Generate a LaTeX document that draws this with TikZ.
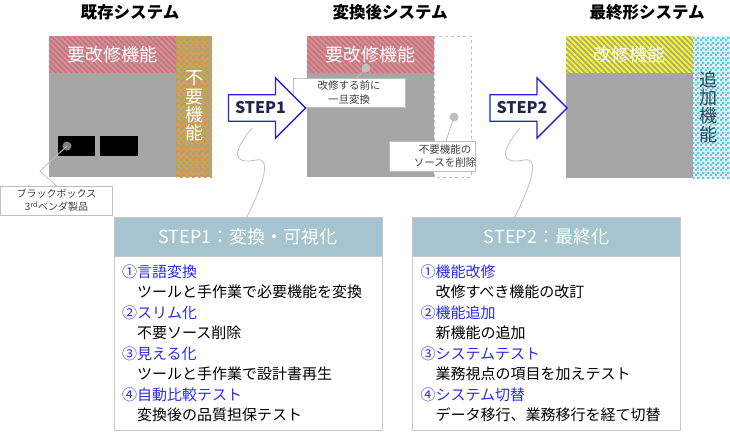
\documentclass[tikz,border=0pt]{standalone}
\usepackage{fontspec}
\setmainfont{Noto Sans CJK JP}
\usepackage{tikz}
\usetikzlibrary{positioning, patterns, patterns.meta, shapes.arrows}

\definecolor{sysgray}{HTML}{A6A6A6}
\definecolor{stripepink}{HTML}{F2616F}
\definecolor{checkorange}{HTML}{DC9A1A}
\definecolor{stripeyellow}{HTML}{FFFF00}
\definecolor{checkcyan}{HTML}{5CC8E2}
\definecolor{cyanbase}{HTML}{E4F5FA}
\definecolor{arrowblue}{HTML}{2424D8}
\definecolor{stepnavy}{HTML}{1F2750}
\definecolor{headblue}{HTML}{A5C4CF}
\definecolor{itemblue}{HTML}{2C2CF0}
\definecolor{linegray}{HTML}{BFBFBF}
\definecolor{boxgray}{HTML}{C8C8C8}
\definecolor{textgray}{HTML}{404040}
\definecolor{addnavy}{HTML}{354555}

% small checker tiles
\pgfdeclarepatternformonly{orangechecker}{\pgfqpoint{0pt}{0pt}}{\pgfqpoint{6pt}{6pt}}{\pgfqpoint{6pt}{6pt}}{%
  \pgfpathrectangle{\pgfqpoint{0pt}{0pt}}{\pgfqpoint{3pt}{3pt}}%
  \pgfpathrectangle{\pgfqpoint{3pt}{3pt}}{\pgfqpoint{3pt}{3pt}}%
  \pgfusepath{fill}}
\pgfdeclarepatternformonly{cyanchecker}{\pgfqpoint{0pt}{0pt}}{\pgfqpoint{5pt}{5pt}}{\pgfqpoint{5pt}{5pt}}{%
  \pgfpathrectangle{\pgfqpoint{0pt}{0pt}}{\pgfqpoint{2.5pt}{2.5pt}}%
  \pgfpathrectangle{\pgfqpoint{2.5pt}{2.5pt}}{\pgfqpoint{2.5pt}{2.5pt}}%
  \pgfusepath{fill}}

\tikzset{
  syslabel/.style={font=\fontsize{18}{18.2}\selectfont, text=white, align=center, inner sep=0pt},
  systitle/.style={font=\bfseries\fontsize{16.5}{18}\selectfont},
  steparrow/.style={single arrow, draw=arrowblue, line width=1.3pt, fill=white,
    minimum height=77pt, minimum width=60pt, single arrow head extend=10pt,
    text=stepnavy, font=\bfseries\fontsize{16}{18}\selectfont, inner sep=1pt},
  callout/.style={draw=linegray, fill=white, font=\fontsize{10.5}{13.5}\selectfont,
    text=textgray, align=center, inner sep=0pt},
  pindot/.style={circle, inner sep=0pt, minimum size=9pt},
  leader/.style={draw=linegray, line width=0.8pt},
  headbar/.style={draw=boxgray, fill=headblue, text=white,
    font=\fontsize{18}{20}\selectfont, minimum height=39pt, minimum width=268pt},
  bodybox/.style={draw=boxgray, fill=white, align=left, font=\fontsize{15}{20.5}\selectfont,
    inner xsep=8pt, text width=252pt, minimum height=174pt},
  stripes/.style={pattern={Lines[angle=-45, distance=3.8pt, line width=1.8pt]}},
}

\begin{document}
\begin{tikzpicture}[x=1pt, y=-1pt]
\useasboundingbox (0,0) rectangle (730,431);

% titles
\node[systitle] (t1) at (130,12) {既存システム};
\node[systitle] (t2) at (390,12) {変換後システム};
\node[systitle] (t3) at (647,12) {最終形システム};

% existing system
\fill[sysgray] (49,36) rectangle (212,177);
\fill[stripes, pattern color=stripepink] (49,36) rectangle (176,72);
\fill[pattern=orangechecker, pattern color=checkorange] (176,36) rectangle (212,177);
\node[syslabel] (fix1) at (112.5,55) {要改修機能};
\node[syslabel] (unused) at (194,106) {不\\要\\機\\能};
\fill[black] (58,136) rectangle (95,156);
\fill[black] (100,136) rectangle (138,156);
\node[pindot, fill=gray] (d1) at (67,146) {};
\node[callout, font=\fontsize{10}{13}\selectfont, minimum width=112pt, minimum height=29pt] (bbox) at (56.5,200.5)
  {ブラックボックス\\3\textsuperscript{rd}ベンダ製品};
\draw[leader] (d1.center) -- (40,171) -- (bbox.north);

% converted system
\fill[sysgray] (307,36) rectangle (434,177);
\fill[stripes, pattern color=stripepink] (307,36) rectangle (434,72);
\draw[linegray, dashed, fill=white] (434,36) rectangle (471,177);
\node[syslabel] (fix2) at (370.5,55) {要改修機能};
\node[pindot, fill=linegray] (d2) at (366,68) {};
\node[pindot, fill=linegray] (d3) at (454,117) {};
\node[callout, minimum width=112pt, minimum height=29pt] (conv) at (349,92.5)
  {改修する前に\\一旦変換};
\node[callout, minimum width=86pt, minimum height=30pt] (cut) at (432,156) {};
\node[callout, draw=none, fill=none] (cuttext) at (445,156) {不要機能の\\ソースを削除};
\draw[leader] (d2.center) -- ([xshift=8pt]conv.north);
\draw[leader] (d3.center) -- ([xshift=14pt]cut.north);

% final system
\fill[sysgray] (566,36) rectangle (693,178);
\fill[stripes, pattern color=stripeyellow] (566,36) rectangle (693,72);
\fill[cyanbase] (693,36) rectangle (730,178);
\fill[pattern=cyanchecker, pattern color=checkcyan] (693,36) rectangle (730,178);
\node[syslabel] (fix3) at (629.5,55) {改修機能};
\node[syslabel, text=addnavy] (added) at (708,107) {追\\加\\機\\能};

% step arrows
\node[steparrow] (step1) at (260.5,108) {STEP1};
\node[steparrow] (step2) at (522,108) {STEP2};

% step boxes
\node[headbar] (h1) at (248,236.5) {STEP1：変換・可視化};
\node[bodybox, below=0pt of h1] (b1) {%
\textcolor{itemblue}{①言語変換}\\
\hspace*{1em}ツールと手作業で必要機能を変換\\
\textcolor{itemblue}{②スリム化}\\
\hspace*{1em}不要ソース削除\\
\textcolor{itemblue}{③見える化}\\
\hspace*{1em}ツールと手作業で設計書再生\\
\textcolor{itemblue}{④自動比較テスト}\\
\hspace*{1em}変換後の品質担保テスト};

\node[headbar] (h2) at (546.5,236.5) {STEP2：最終化};
\node[bodybox, below=0pt of h2] (b2) {%
\textcolor{itemblue}{①機能改修}\\
\hspace*{1em}改修すべき機能の改訂\\
\textcolor{itemblue}{②機能追加}\\
\hspace*{1em}新機能の追加\\
\textcolor{itemblue}{③システムテスト}\\
\hspace*{1em}業務視点の項目を加えテスト\\
\textcolor{itemblue}{④システム切替}\\
\hspace*{1em}データ移行、業務移行を経て切替};

% squiggly links
\draw[leader] (252,128) .. controls (232,152) and (232,165) .. (256,160)
  .. controls (275,156) and (258,195) .. (h1.north -| 247,0);
\draw[leader] (520,128) .. controls (500,152) and (500,165) .. (524,160)
  .. controls (543,156) and (526,195) .. (h2.north -| 515,0);
\end{tikzpicture}
\end{document}
